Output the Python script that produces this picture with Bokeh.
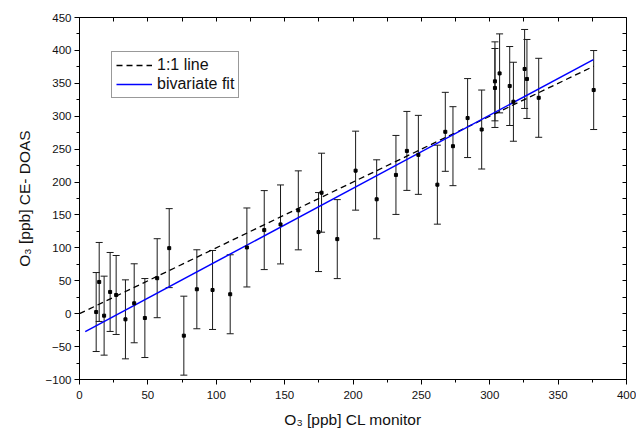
from bokeh.plotting import figure
from bokeh.models import (ColumnDataSource, Range1d, LinearAxis, SingleIntervalTicker,
                          FixedTicker, Whisker, TeeHead, Legend, LegendItem)
from bokeh.embed import file_html
from bokeh.resources import INLINE

# Data
cl_monitor = [12.2, 14.4, 18.0, 22.4, 26.8, 33.6, 40.0, 47.8, 56.8, 65.6,
              76.3, 85.8, 97.3, 110.2, 122.4, 135.1, 147.0, 160.0, 174.8, 177.0,
              188.5, 201.9, 217.3, 231.4, 239.4, 247.8, 261.7, 267.5, 273.1, 283.8,
              294.1, 303.8, 303.8, 307.2, 314.6, 317.3, 325.5, 327.2, 335.8, 376.0]
ce_doas = [2.5, 48.2, -3.0, 33.0, 28.4, -8.6, 15.8, -6.6, 53.9, 99.6,
           -33.4, 37.1, 36.0, 29.5, 100.6, 127.0, 135.6, 157.0, 124.0, 183.8,
           113.3, 217.3, 173.8, 210.8, 247.3, 241.3, 196.0, 276.3, 254.5, 297.2,
           279.8, 353.0, 342.9, 365.1, 345.9, 322.0, 371.8, 356.6, 328.0, 339.8]
ce_doas_err = [60, 60, 60, 60, 60, 60, 60, 60, 60, 60,
               60, 60, 60, 60, 60, 60, 60, 60, 60, 60,
               60, 60, 60, 60, 60, 60, 60, 60, 60, 60,
               60, 60, 60, 60, 60, 60, 60, 60, 60, 60]

one_to_one_x = [0, 376]
one_to_one_y = [0, 376]
fit_x = [4.2, 375.8]
fit_y = [-27.3, 386.0]

# tick positions of the mirrored (unlabelled) top and right axes
top_ticks = [25, 50, 75, 100, 125, 150, 175, 200, 225, 250, 275, 300, 325, 350, 375]
right_ticks = [-75, -50, -25, 0, 25, 50, 75, 100, 125, 150, 175, 200, 225, 250,
               275, 300, 325, 350, 375, 400, 425]

FONT = "Liberation Sans"

src = ColumnDataSource(dict(
    x=cl_monitor, y=ce_doas,
    upper=[v + e for v, e in zip(ce_doas, ce_doas_err)],
    lower=[v - e for v, e in zip(ce_doas, ce_doas_err)],
))

p = figure(width=636, height=430,
           x_range=Range1d(0, 400), y_range=Range1d(-100, 450),
           output_backend="svg", toolbar_location=None,
           min_border_left=79, min_border_right=10, min_border_top=17, min_border_bottom=0,
           x_axis_type=None, y_axis_type=None)
p.grid.visible = False
p.outline_line_color = "black"
p.outline_line_width = 1
p.background_fill_color = "white"
p.border_fill_color = "white"


def style_axis(ax):
    ax.axis_line_color = "black"
    ax.major_tick_line_color = "black"
    ax.minor_tick_line_color = "black"
    ax.major_tick_out = 5
    ax.major_tick_in = 0
    ax.minor_tick_out = 3
    ax.minor_tick_in = 0
    ax.major_label_text_font = FONT
    ax.major_label_text_font_size = "11.5px"
    ax.major_label_text_color = "#111111"
    ax.axis_label_text_font = FONT
    ax.axis_label_text_font_size = "15.5px"
    ax.axis_label_text_font_style = "normal"
    ax.axis_label_text_color = "#111111"


def style_mirror(ax):
    ax.axis_line_color = "black"
    ax.major_tick_line_color = None
    ax.minor_tick_line_color = "black"
    ax.major_tick_out = 0
    ax.major_tick_in = 0
    ax.minor_tick_out = 0
    ax.minor_tick_in = 4
    ax.major_label_standoff = 0


xb = LinearAxis(ticker=SingleIntervalTicker(interval=50, num_minor_ticks=2),
                axis_label="O\u2083 [ppb] CL monitor")
style_axis(xb)
xb.major_label_standoff = 6
xb.axis_label_standoff = 9
p.add_layout(xb, "below")

yl = LinearAxis(ticker=SingleIntervalTicker(interval=50, num_minor_ticks=2),
                axis_label="O\u2083 [ppb] CE- DOAS")
style_axis(yl)
yl.major_label_standoff = 3
yl.axis_label_standoff = 10
p.add_layout(yl, "left")

xt = LinearAxis(ticker=FixedTicker(ticks=[], minor_ticks=top_ticks))
style_mirror(xt)
p.add_layout(xt, "above")

yr = LinearAxis(ticker=FixedTicker(ticks=[], minor_ticks=right_ticks))
style_mirror(yr)
p.add_layout(yr, "right")

whisk = Whisker(source=src, base="x", upper="upper", lower="lower", dimension="height",
                line_color="#1a1a1a", line_width=1, level="underlay",
                upper_head=TeeHead(size=7, line_color="#1a1a1a", line_width=1),
                lower_head=TeeHead(size=7, line_color="#1a1a1a", line_width=1))
p.add_layout(whisk)

r_one = p.line(one_to_one_x, one_to_one_y, line_color="black", line_width=1.3,
               line_dash="6 4")
r_fit = p.line(fit_x, fit_y, line_color="#0000ff", line_width=1.5)
p.scatter("x", "y", source=src, marker="square", size=3, fill_color="black",
          line_color="black")

legend = Legend(items=[LegendItem(label="1:1 line", renderers=[r_one]),
                       LegendItem(label="bivariate fit", renderers=[r_fit])],
                location=(32, 281), orientation="vertical",
                glyph_width=36, glyph_height=16, label_height=16,
                label_standoff=5, padding=4, spacing=1, margin=0,
                label_text_font=FONT, label_text_font_size="16px",
                label_text_color="#111111",
                border_line_color="#333333", border_line_width=1,
                background_fill_color="white", background_fill_alpha=1)
p.add_layout(legend, "center")

open("out.html", "w").write(file_html(p, INLINE))
